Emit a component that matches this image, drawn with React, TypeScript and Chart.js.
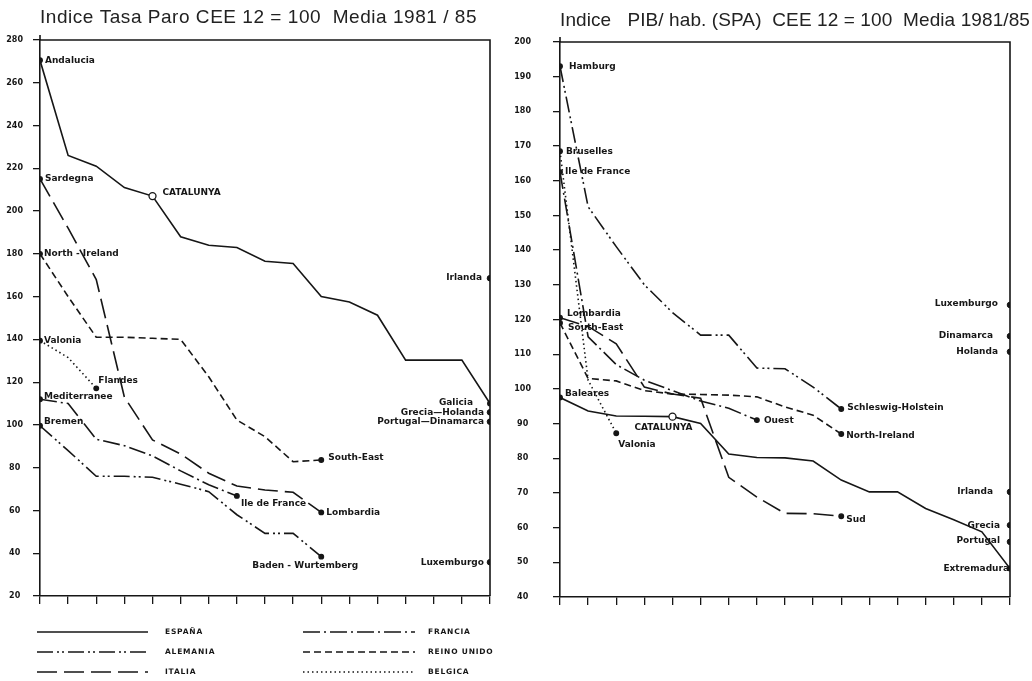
import React, { useEffect, useRef } from 'react';
import { Chart, registerables } from 'chart.js';

Chart.register(...registerables);

// ---------- DATA ----------
// Posición (rango) de cada región dentro de su país: 17 posiciones
const rangos = [1, 2, 3, 4, 5, 6, 7, 8, 9, 10, 11, 12, 13, 14, 15, 16, 17];

// Índice Tasa Paro CEE 12 = 100, media 1981/85 (regiones ordenadas)
const paroEspana = [270.5, 226, 221, 211, 207, 188, 184, 183, 176.5, 175.5, 160, 157.5, 151.3, 130.3, 130.3, 130.3, 110];
const paroAlemania = [99.6, 88, 76, 76, 75.5, 72.3, 68.8, 58, 49.3, 49.3, 38.4];
const paroItalia = [215, 192, 168, 113, 93, 86.4, 77.4, 71.4, 69.6, 68.5, 59.1];
const paroFrancia = [112, 110, 93.3, 90.3, 85.5, 78.5, 72, 66.8];
const paroReinoUnido = [180, 160, 141, 141, 140.5, 140, 122.5, 102.3, 94.5, 82.8, 83.6];
const paroBelgica = [139.4, 131.5, 117.1];
const paroPaisesNombres = ['Irlanda', 'Grecia—Holanda', 'Portugal—Dinamarca', 'Luxemburgo'];
const paroPaisesValores = [168.6, 105.9, 101.5, 35.8];
const paroTicks = [20, 40, 60, 80, 100, 120, 140, 160, 180, 200, 220, 240, 260, 280];

// Índice PIB/hab. (SPA) CEE 12 = 100, media 1981/85
const pibEspana = [97.5, 93.6, 92.2, 92.1, 92, 90, 81.2, 80.2, 80.1, 79.2, 73.7, 70.3, 70.3, 65.5, 62.3, 58.8, 48.2];
const pibAlemania = [193, 152.5, 141, 130, 122, 115.5, 115.5, 106, 105.8, 100.5, 94.2];
const pibItalia = [120.5, 118, 113, 100.5, 98.5, 97.3, 74.5, 68.8, 64.1, 64, 63.3];
const pibFrancia = [162.5, 115, 107, 102.5, 99.5, 96.5, 94.4, 91];
const pibReinoUnido = [119, 103, 102.3, 99.5, 98.5, 98.4, 98.2, 97.7, 94.8, 92.4, 87];
const pibBelgica = [168.5, 102.5, 87.2];
const pibPaisesNombres = ['Luxemburgo', 'Dinamarca', 'Holanda', 'Irlanda', 'Grecia', 'Portugal'];
const pibPaisesValores = [124.2, 115.2, 110.7, 70.3, 60.7, 55.9];
const pibTicks = [40, 50, 60, 70, 80, 90, 100, 110, 120, 130, 140, 150, 160, 170, 180, 190, 200];

// Nombres de regiones (primera / última de cada país)
const paroRegiones = {
  'ESPAÑA': ['Andalucia', 'Galicia'],
  'ALEMANIA': ['Bremen', 'Baden - Wurtemberg'],
  'ITALIA': ['Sardegna', 'Lombardia'],
  'FRANCIA': ['Mediterranee', 'Ile de France'],
  'REINO UNIDO': ['North - Ireland', 'South-East'],
  'BELGICA': ['Valonia', 'Flandes'],
};
const pibRegiones = {
  'ESPAÑA': ['Baleares', 'Extremadura'],
  'ALEMANIA': ['Hamburg', 'Schleswig-Holstein'],
  'ITALIA': ['Lombardia', 'Sud'],
  'FRANCIA': ['Ile de France', 'Ouest'],
  'REINO UNIDO': ['South-East', 'North-Ireland'],
  'BELGICA': ['Bruselles', 'Valonia'],
};
const regionDestacada = 'CATALUNYA';
const indiceCatalunya = 4;

// ---------- STYLE ----------
const INK = '#161616';
const FONT = '"DejaVu Sans", "Liberation Sans", sans-serif';
const DASH: Record<string, number[]> = {
  'ESPAÑA': [],
  'ALEMANIA': [16, 4, 2, 3, 2, 4],
  'ITALIA': [20, 7],
  'FRANCIA': [17, 4, 2, 4],
  'REINO UNIDO': [7, 4],
  'BELGICA': [1.5, 3],
};
const LEGEND_ORDER = [
  ['ESPAÑA', 'FRANCIA'],
  ['ALEMANIA', 'REINO UNIDO'],
  ['ITALIA', 'BELGICA'],
];

type Place = { dx: number; dy: number; align?: CanvasTextAlign };
// label placement offsets (pixels) keyed by text
const PLACE_PARO: Record<string, Place> = {
  'Andalucia': { dx: 5, dy: 0 },
  'Galicia': { dx: -17, dy: -1, align: 'right' },
  'Bremen': { dx: 4, dy: -4 },
  'Baden - Wurtemberg': { dx: -16, dy: 9, align: 'center' },
  'Sardegna': { dx: 5, dy: 0 },
  'Lombardia': { dx: 5, dy: 0 },
  'Mediterranee': { dx: 4, dy: -3 },
  'Ile de France': { dx: 4, dy: 8 },
  'North - Ireland': { dx: 4, dy: 0 },
  'South-East': { dx: 7, dy: -2 },
  'Valonia': { dx: 4, dy: 0 },
  'Flandes': { dx: 2, dy: -8 },
  'CATALUNYA': { dx: 10, dy: -3 },
  'Irlanda': { dx: -8, dy: -1, align: 'right' },
  'Grecia—Holanda': { dx: -6, dy: 0, align: 'right' },
  'Portugal—Dinamarca': { dx: -6, dy: 0, align: 'right' },
  'Luxemburgo': { dx: -6, dy: 0, align: 'right' },
};
const PLACE_PIB: Record<string, Place> = {
  'Baleares': { dx: 5, dy: -4 },
  'Extremadura': { dx: -1, dy: 0, align: 'right' },
  'Hamburg': { dx: 9, dy: 0 },
  'Schleswig-Holstein': { dx: 6, dy: -1 },
  'Lombardia': { dx: 7, dy: -4 },
  'Sud': { dx: 5, dy: 3 },
  'Ile de France': { dx: 5, dy: 0 },
  'Ouest': { dx: 7, dy: 1 },
  'South-East': { dx: 8, dy: 5 },
  'North-Ireland': { dx: 5, dy: 2 },
  'Bruselles': { dx: 6, dy: 0 },
  'Valonia': { dx: 2, dy: 11 },
  'CATALUNYA': { dx: -9, dy: 11, align: 'center' },
  'Luxemburgo': { dx: -12, dy: -1, align: 'right' },
  'Dinamarca': { dx: -17, dy: 0, align: 'right' },
  'Holanda': { dx: -12, dy: 0, align: 'right' },
  'Irlanda': { dx: -17, dy: 0, align: 'right' },
  'Grecia': { dx: -10, dy: 0, align: 'right' },
  'Portugal': { dx: -10, dy: -1, align: 'right' },
};

function serie(label: string, values: number[], withCat: boolean) {
  const last = values.length - 1;
  return {
    label,
    data: values.map((v, i) => ({ x: rangos[i] - 1, y: v })),
    borderColor: INK,
    borderWidth: 1.6,
    borderDash: DASH[label],
    tension: 0,
    fill: false,
    pointRadius: values.map((_, i) => (withCat && i === indiceCatalunya ? 3.5 : i === 0 || i === last ? 2.3 : 0)),
    pointBackgroundColor: values.map((_, i) => (withCat && i === indiceCatalunya ? '#ffffff' : INK)),
    pointBorderColor: INK,
    pointBorderWidth: 1.3,
  };
}

function puntos(nombres: string[], valores: number[]) {
  return nombres.map((n, k) => ({
    label: n,
    data: [{ x: rangos[rangos.length - 1] - 1, y: valores[k] }],
    showLine: false,
    borderColor: INK,
    pointRadius: 2.8,
    pointBackgroundColor: INK,
    pointBorderColor: INK,
  }));
}

type DecorCfg = {
  title: string;
  titleX: number;
  titleY: number;
  titleW: number;
  regiones: Record<string, string[]>;
  place: Record<string, Place>;
  sideNames: string[];
  legend: boolean;
};

function makeDecor(cfg: DecorCfg) {
  return {
    id: 'decor',
    afterDatasetsDraw(chart: any) {
      const { ctx, chartArea } = chart;
      const { left, right, top, bottom } = chartArea;
      ctx.save();
      // frame: top and right edges, axis overshoot
      ctx.strokeStyle = INK;
      ctx.lineWidth = 1.6;
      ctx.setLineDash([]);
      ctx.beginPath();
      ctx.moveTo(left, top - 5);
      ctx.lineTo(left, top);
      ctx.lineTo(right, top);
      ctx.lineTo(right, bottom);
      ctx.stroke();

      // title
      ctx.fillStyle = '#222';
      ctx.font = `19px "Liberation Sans", ${FONT}`;
      ctx.textBaseline = 'middle';
      ctx.textAlign = 'left';
      (ctx as any).letterSpacing = '0px';
      const w = ctx.measureText(cfg.title).width;
      const ls = (cfg.titleW - w) / cfg.title.length;
      (ctx as any).letterSpacing = `${ls}px`;
      ctx.fillText(cfg.title, cfg.titleX, cfg.titleY);
      (ctx as any).letterSpacing = '0px';

      // region labels
      ctx.fillStyle = INK;
      ctx.font = `bold 9px ${FONT}`;
      const drawLabel = (text: string, x: number, y: number) => {
        const p = cfg.place[text] || { dx: 5, dy: 0 };
        ctx.textAlign = p.align || 'left';
        ctx.fillText(text, x + p.dx, y + p.dy);
      };
      chart.data.datasets.forEach((ds: any, di: number) => {
        const meta = chart.getDatasetMeta(di);
        const names = cfg.regiones[ds.label];
        if (names) {
          const pts = meta.data;
          drawLabel(names[0], pts[0].x, pts[0].y);
          drawLabel(names[1], pts[pts.length - 1].x, pts[pts.length - 1].y);
          if (ds.label === 'ESPAÑA') {
            const c = pts[indiceCatalunya];
            drawLabel(regionDestacada, c.x, c.y);
          }
        } else if (cfg.sideNames.includes(ds.label)) {
          const p0 = meta.data[0];
          drawLabel(ds.label, p0.x, p0.y);
        }
      });

      // legend
      if (cfg.legend) {
        const rowsY = [632, 652, 672];
        const cols = [
          { x0: 37, x1: 148, tx: 165 },
          { x0: 303, x1: 415, tx: 428 },
        ];
        ctx.font = `bold 7.5px ${FONT}`;
        (ctx as any).letterSpacing = '0.8px';
        ctx.textAlign = 'left';
        LEGEND_ORDER.forEach((row, r) => {
          row.forEach((name, c) => {
            const col = cols[c];
            ctx.beginPath();
            ctx.setLineDash(DASH[name]);
            ctx.lineWidth = 1.6;
            ctx.moveTo(col.x0, rowsY[r]);
            ctx.lineTo(col.x1, rowsY[r]);
            ctx.stroke();
            ctx.setLineDash([]);
            ctx.fillText(name, col.tx, rowsY[r]);
          });
        });
        (ctx as any).letterSpacing = '0px';
      }
      ctx.restore();
    },
  };
}

function buildConfig(opts: {
  series: [string, number[]][];
  sideNames: string[];
  sideValues: number[];
  ticks: number[];
  step: number;
  yWidth: number;
  xHeight: number;
  padTop: number;
  padRight: number;
  tickPad: number;
  decor: DecorCfg;
}) {
  const datasets: any[] = opts.series.map(([name, vals]) => serie(name, vals, name === 'ESPAÑA'));
  datasets.push(...puntos(opts.sideNames, opts.sideValues));
  const tickFont = { size: 8, weight: 'bold' as const, family: FONT };
  return {
    type: 'line' as const,
    data: { datasets },
    options: {
      animation: false,
      responsive: false,
      events: [],
      layout: { padding: { top: opts.padTop, right: opts.padRight, left: 0, bottom: 0 } },
      plugins: { legend: { display: false }, tooltip: { enabled: false }, title: { display: false } },
      scales: {
        x: {
          type: 'linear',
          min: 0,
          max: rangos.length - 1,
          ticks: { stepSize: 1, display: false },
          grid: { drawOnChartArea: false, drawTicks: true, tickLength: 8, color: INK, lineWidth: 1.3 },
          border: { display: true, color: INK, width: 1.6 },
          afterFit: (s: any) => { s.height = opts.xHeight; },
        },
        y: {
          type: 'linear',
          min: opts.ticks[0],
          max: opts.ticks[opts.ticks.length - 1],
          ticks: {
            stepSize: opts.step,
            font: tickFont,
            color: INK,
            crossAlign: 'center',
            padding: opts.tickPad,
          },
          grid: { drawOnChartArea: false, drawTicks: true, tickLength: 7, color: INK, lineWidth: 1.3 },
          border: { display: true, color: INK, width: 1.6 },
          afterFit: (s: any) => { s.width = opts.yWidth; },
        },
      },
    },
    plugins: [makeDecor(opts.decor)],
  };
}

function Panel({ left, width, make }: { left: number; width: number; make: () => any }) {
  const ref = useRef<HTMLCanvasElement>(null);
  useEffect(() => {
    const chart = new Chart(ref.current as HTMLCanvasElement, make());
    return () => chart.destroy();
  }, []);
  return (
    <canvas
      ref={ref}
      width={width}
      height={681}
      style={{ position: 'absolute', left, top: 0, width, height: 681 }}
    />
  );
}

const makeParo = () =>
  buildConfig({
    series: [
      ['ESPAÑA', paroEspana],
      ['ALEMANIA', paroAlemania],
      ['ITALIA', paroItalia],
      ['FRANCIA', paroFrancia],
      ['REINO UNIDO', paroReinoUnido],
      ['BELGICA', paroBelgica],
    ],
    sideNames: paroPaisesNombres,
    sideValues: paroPaisesValores,
    ticks: paroTicks,
    step: 20,
    yWidth: 40,
    xHeight: 85,
    padTop: 40,
    padRight: 20,
    tickPad: 10,
    decor: {
      title: 'Indice Tasa Paro CEE 12 = 100  Media 1981 / 85',
      titleX: 40,
      titleY: 18,
      titleW: 437,
      regiones: paroRegiones,
      place: PLACE_PARO,
      sideNames: paroPaisesNombres,
      legend: true,
    },
  });

const makePib = () =>
  buildConfig({
    series: [
      ['ESPAÑA', pibEspana],
      ['ALEMANIA', pibAlemania],
      ['ITALIA', pibItalia],
      ['FRANCIA', pibFrancia],
      ['REINO UNIDO', pibReinoUnido],
      ['BELGICA', pibBelgica],
    ],
    sideNames: pibPaisesNombres,
    sideValues: pibPaisesValores,
    ticks: pibTicks,
    step: 10,
    yWidth: 50,
    xHeight: 84,
    padTop: 42,
    padRight: 22,
    tickPad: 22,
    decor: {
      title: 'Indice   PIB/ hab. (SPA)  CEE 12 = 100  Media 1981/85',
      titleX: 50,
      titleY: 21,
      titleW: 470,
      regiones: pibRegiones,
      place: PLACE_PIB,
      sideNames: pibPaisesNombres,
      legend: false,
    },
  });

export default function App() {
  return (
    <div style={{ position: 'absolute', left: 0, top: 0, width: 1032, height: 681, background: '#ffffff', overflow: 'hidden' }}>
      <Panel left={0} width={510} make={makeParo} />
      <Panel left={510} width={522} make={makePib} />
    </div>
  );
}
